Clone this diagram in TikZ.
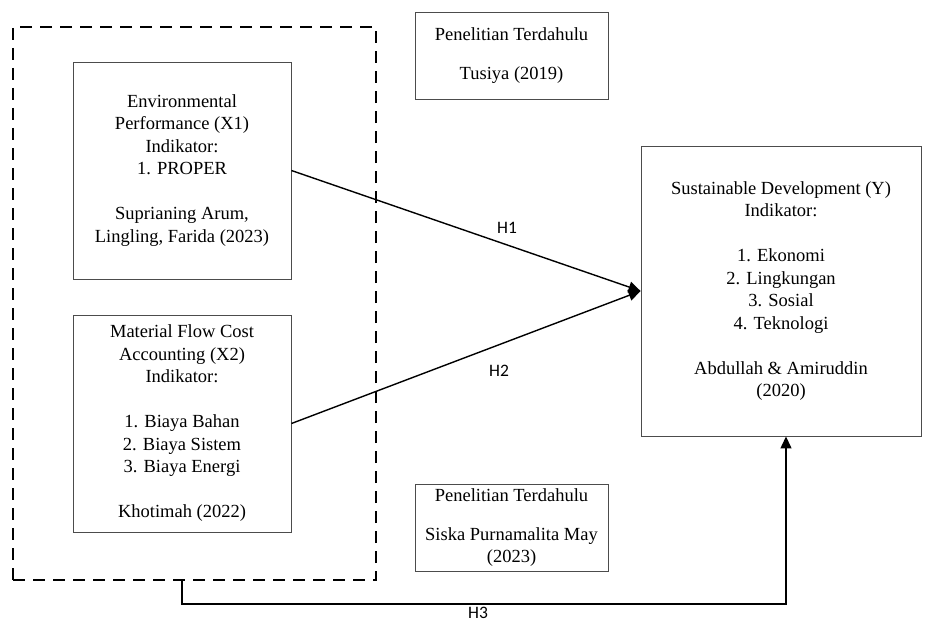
\documentclass[tikz,border=0pt]{standalone}
\usepackage{fontspec}
\setmainfont{Liberation Serif}
\newfontfamily\lblfont{Carlito}
\usetikzlibrary{arrows.meta}
\begin{document}
\begin{tikzpicture}[x=1pt,y=-1pt,
 box/.style={draw=black!70, line width=0.9pt, inner sep=0pt, align=center,
   font=\fontsize{18.5}{22.5}\selectfont},
 grpbox/.style={draw=black, line width=1.6pt, dash pattern=on 12pt off 8pt, inner sep=0pt},
 arr/.style={draw=black, line width=1.4pt, -{Triangle[length=12pt,width=11pt]}},
 hlabel/.style={font=\lblfont\fontsize{17.5}{20}\selectfont}]
\useasboundingbox (0,0) rectangle (925,623);

\node[grpbox, minimum width=363pt, minimum height=553pt] (grp) at (194.5,303.5) {};

\node[box, minimum width=218pt, minimum height=217pt] (X1) at (182,170.5)
 {Environmental\\Performance (X1)\\Indikator:\\1. PROPER\\[22.5pt]Suprianing Arum,\\Lingling, Farida (2023)};

\node[box, minimum width=218pt, minimum height=217pt] (X2) at (182,423.5)
 {Material Flow Cost\\Accounting (X2)\\Indikator:\\[22.5pt]1. Biaya Bahan\\2. Biaya Sistem\\3. Biaya Energi\\[22.5pt]Khotimah (2022)};

\node[box, minimum width=280pt, minimum height=290pt] (Y) at (781,291)
 {Sustainable Development (Y)\\Indikator:\\[22.5pt]1. Ekonomi\\2. Lingkungan\\3. Sosial\\4. Teknologi\\[22.5pt]Abdullah \& Amiruddin\\(2020)};

\node[box, minimum width=193pt, minimum height=87pt] (T1) at (511.5,55.5)
 {Penelitian Terdahulu\\[16.5pt]Tusiya (2019)};

\node[box, minimum width=193pt, minimum height=87pt] (T2) at (511.5,527.5)
 {Penelitian Terdahulu\\[16.5pt]Siska Purnamalita May\\(2023)};

\draw[arr] (X1.east) -- (Y.west);
\draw[arr] (X2.east) -- (Y.west);
\coordinate (h3turn) at (786,604);
\draw[arr] (grp.south -| X2.south) |- (h3turn) -- (Y.south -| h3turn);

\node[hlabel] (h1) at (507,228) {H1};
\node[hlabel] (h2) at (499,371) {H2};
\node[hlabel] (h3) at (478,613) {H3};
\end{tikzpicture}
\end{document}
